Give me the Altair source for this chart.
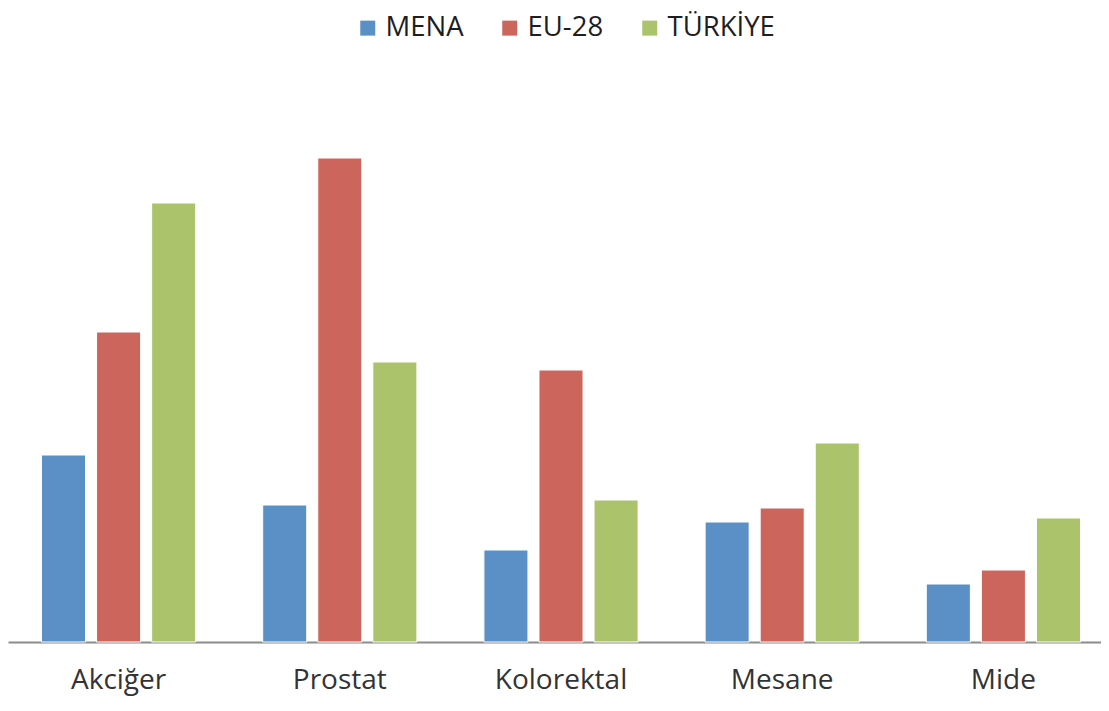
import altair as alt
import pandas as pd

categories = ["Akciğer", "Prostat", "Kolorektal", "Mesane", "Mide"]
series = ["MENA", "EU-28", "TÜRKİYE"]
mena = [18.7, 13.7, 9.2, 12.0, 5.8]
eu28 = [31.0, 48.4, 27.2, 13.4, 7.2]
turkiye = [43.9, 28.0, 14.2, 19.9, 12.4]
colors = ["#5B90C6", "#CC665C", "#ABC36A"]

rows = []
for i, c in enumerate(categories):
    for s, vals in zip(series, [mena, eu28, turkiye]):
        rows.append({"Kategori": c, "Seri": s, "Değer": vals[i]})
df = pd.DataFrame(rows)

FONT = "Open Sans"

chart = alt.Chart(df).mark_bar(stroke="white", strokeWidth=1).encode(
    x=alt.X("Kategori:N", sort=categories, title=None,
            scale=alt.Scale(paddingInner=0.303, paddingOuter=0.1515, range=[0, 1106]),
            axis=alt.Axis(labelAngle=0, labelFontSize=28, labelFont=FONT,
                          labelColor="#333333", labelPadding=24, ticks=False,
                          domainColor="#8c8c8c", domainWidth=2, grid=False)),
    xOffset=alt.XOffset("Seri:N", sort=series,
                        scale=alt.Scale(paddingInner=0.2, paddingOuter=0)),
    y=alt.Y("Değer:Q", title=None, scale=alt.Scale(domain=[0, 50]), axis=None),
    color=alt.Color("Seri:N", sort=series,
                    scale=alt.Scale(domain=series, range=colors),
                    legend=alt.Legend(title=None, orient="none", direction="horizontal",
                                      legendX=346, legendY=-128,
                                      symbolType="square", symbolSize=225,
                                      symbolStrokeWidth=0,
                                      labelFontSize=27.5, labelFont=FONT,
                                      labelColor="#1e1e1e", columnPadding=32,
                                      labelOffset=4)),
).properties(
    width=1093, height=500,
    autosize=alt.AutoSizeParams(type="none"),
    padding={"left": 0, "top": 134, "right": 0, "bottom": 60},
).configure_view(stroke=None)

chart.save("out.html", embed_options={"renderer": "svg", "actions": False})
